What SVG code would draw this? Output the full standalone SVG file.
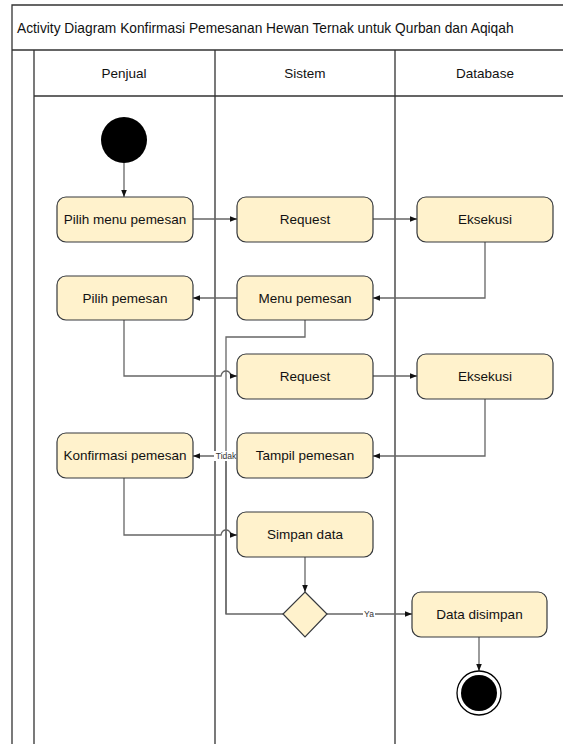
<svg xmlns="http://www.w3.org/2000/svg" width="563" height="744" viewBox="0 0 563 744">
<style>
.frame{fill:none;stroke:#333;stroke-width:1.3}
.node rect,.node polygon{fill:#fff2cc;stroke:#36393d;stroke-width:1.2}
.t{font-family:"Liberation Sans",Arial,sans-serif;font-size:13.5px;fill:#111;text-anchor:middle;dominant-baseline:central}
.e{fill:none;stroke:#666;stroke-width:1.3}
.lbl{font-family:"Liberation Sans",Arial,sans-serif;font-size:8.5px;fill:#333;text-anchor:middle;dominant-baseline:central}
</style>
<defs>
<marker id="a" viewBox="0 0 10 10" refX="10" refY="5" markerWidth="7" markerHeight="7" orient="auto" markerUnits="userSpaceOnUse">
<path d="M0,1 L10,5 L0,9 Z" fill="#111"/>
</marker>
</defs>
<rect width="563" height="744" fill="#fff"/>
<g id="pool">
<path class="frame" d="M12,744 V5 H570 M12,50 H570 M34,50 V744 M34,96 H570 M215,50 V744 M395,50 V744"/>
<text class="t" x="17" y="28" style="text-anchor:start;font-size:13.75px">Activity Diagram Konfirmasi Pemesanan Hewan Ternak untuk Qurban dan Aqiqah</text>
<text class="t" x="124" y="73">Penjual</text>
<text class="t" x="305" y="73">Sistem</text>
<text class="t" x="485" y="73">Database</text>
</g>
<g id="edges">
<path class="e" d="M124,163 V197" marker-end="url(#a)"/>
<path class="e" d="M193,219 H237" marker-end="url(#a)"/>
<path class="e" d="M373,219 H417" marker-end="url(#a)"/>
<path class="e" d="M485,242 V298 H373" marker-end="url(#a)"/>
<path class="e" d="M237,298 H193" marker-end="url(#a)"/>
<path class="e" d="M305,320 V337 H226 V614"/>
<path class="e" d="M124,320 V376 H221 Q222,371 226,371 Q230,371 231,376 H237" marker-end="url(#a)"/>
<path class="e" d="M373,376 H417" marker-end="url(#a)"/>
<path class="e" d="M485,399 V456 H373" marker-end="url(#a)"/>
<path class="e" d="M124,478 V535 H221 Q222,530 226,530 Q230,530 231,535 H237" marker-end="url(#a)"/>
<path class="e" d="M305,557 V592" marker-end="url(#a)"/>
<path class="e" d="M283,614 H226 V456 H193" marker-end="url(#a)"/>
<path class="e" d="M327,614 H412" marker-end="url(#a)"/>
<path class="e" d="M479,637 V671" marker-end="url(#a)"/>
<rect x="214" y="451" width="24" height="10" fill="#fff"/>
<text class="lbl" x="226" y="456">Tidak</text>
<rect x="363" y="609" width="12" height="10" fill="#fff"/>
<text class="lbl" x="369" y="614">Ya</text>
</g>
<g id="start"><circle cx="124" cy="140" r="23" fill="#000"/></g>
<g id="n1" class="node"><rect x="57" y="197" width="136" height="45" rx="9"/><text class="t" x="125" y="219.5">Pilih menu pemesan</text></g>
<g id="n2" class="node"><rect x="237" y="197" width="136" height="45" rx="9"/><text class="t" x="305" y="219.5">Request</text></g>
<g id="n3" class="node"><rect x="417" y="197" width="136" height="45" rx="9"/><text class="t" x="485" y="219.5">Eksekusi</text></g>
<g id="n4" class="node"><rect x="57" y="276" width="136" height="44" rx="9"/><text class="t" x="125" y="298">Pilih pemesan</text></g>
<g id="n5" class="node"><rect x="237" y="276" width="136" height="44" rx="9"/><text class="t" x="305" y="298">Menu pemesan</text></g>
<g id="n6" class="node"><rect x="237" y="354" width="136" height="45" rx="9"/><text class="t" x="305" y="376.5">Request</text></g>
<g id="n7" class="node"><rect x="417" y="354" width="136" height="45" rx="9"/><text class="t" x="485" y="376.5">Eksekusi</text></g>
<g id="n8" class="node"><rect x="57" y="433" width="136" height="45" rx="9"/><text class="t" x="125" y="455.5">Konfirmasi pemesan</text></g>
<g id="n9" class="node"><rect x="237" y="433" width="136" height="45" rx="9"/><text class="t" x="305" y="455.5">Tampil pemesan</text></g>
<g id="n10" class="node"><rect x="237" y="512" width="136" height="45" rx="9"/><text class="t" x="305" y="534.5">Simpan data</text></g>
<g id="dec" class="node"><polygon points="305,592 327,614 305,637 283,614"/></g>
<g id="n11" class="node"><rect x="412" y="592" width="135" height="45" rx="9"/><text class="t" x="479.5" y="614.5">Data disimpan</text></g>
<g id="end"><circle cx="479" cy="693" r="22" fill="#fff" stroke="#000" stroke-width="1.3"/><circle cx="479" cy="693" r="18" fill="#000"/></g>
</svg>
